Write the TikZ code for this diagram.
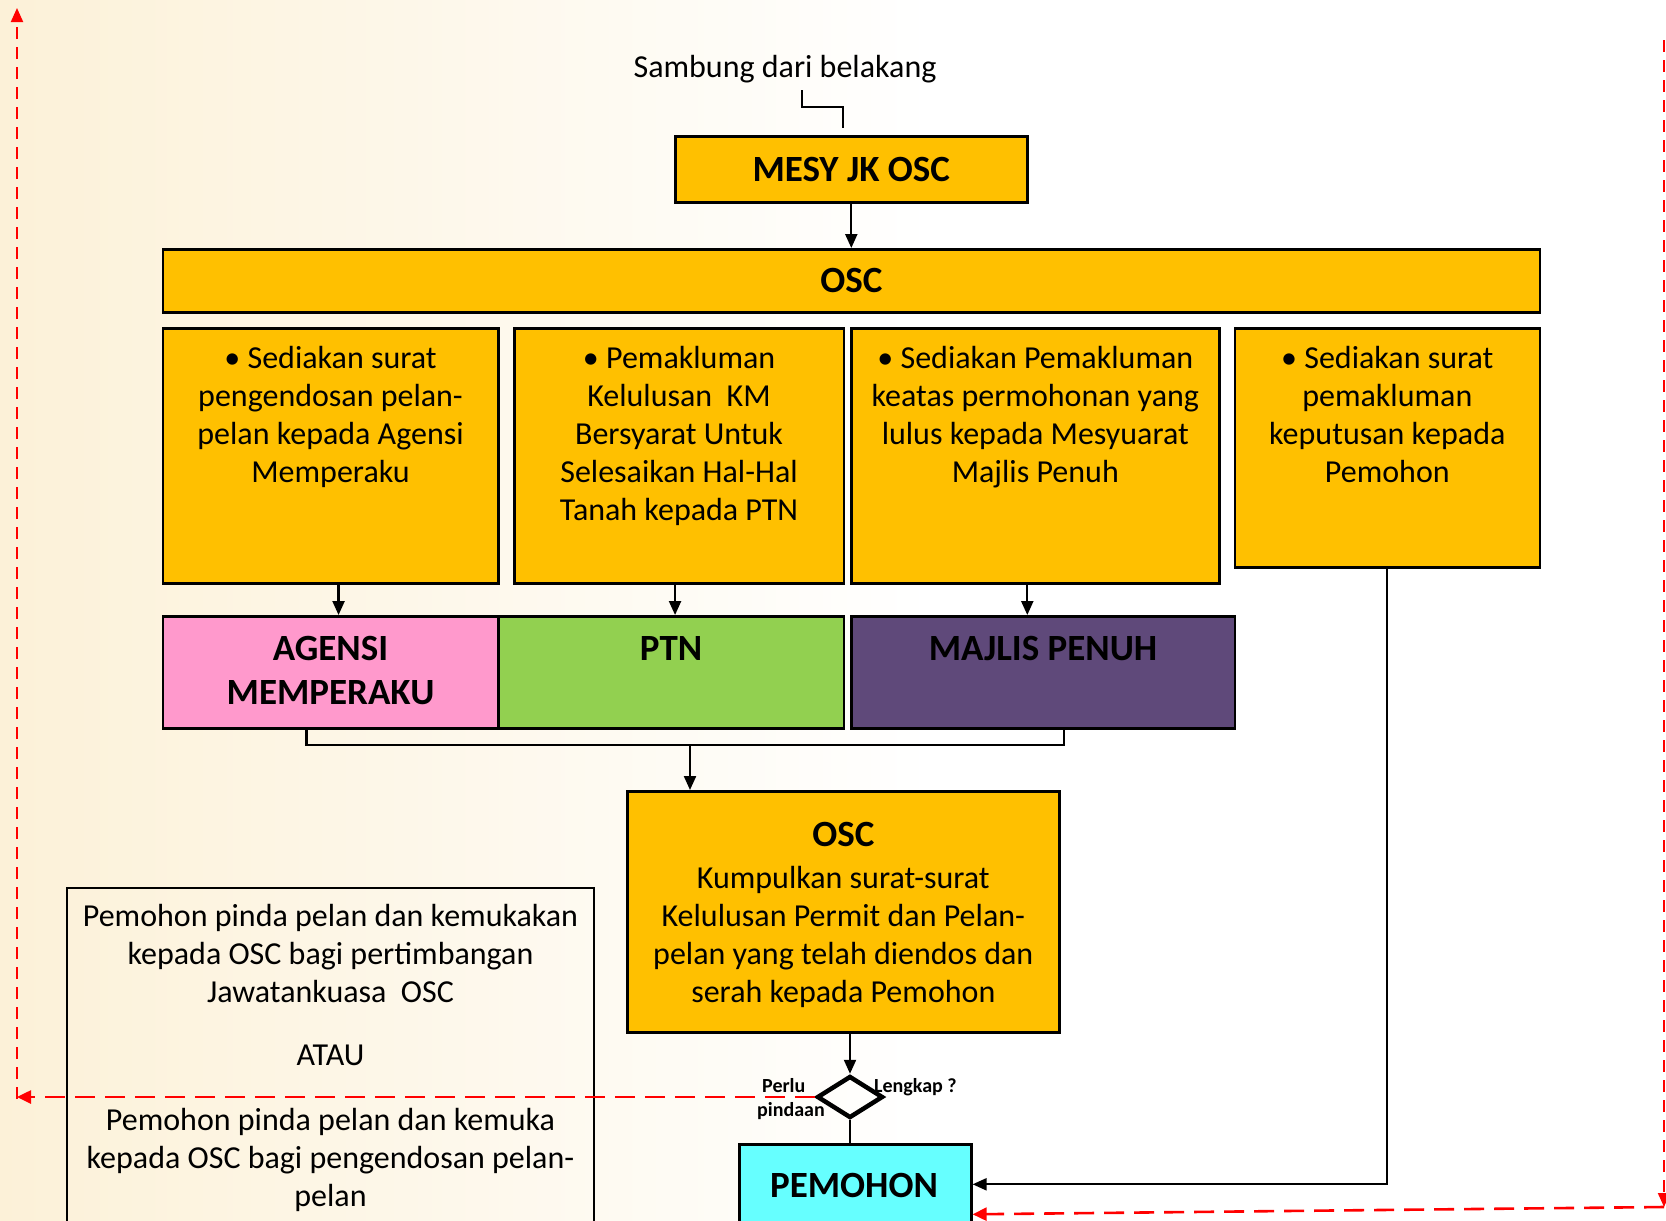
\documentclass[tikz,border=0pt]{standalone}
\usepackage{fontspec}
\setmainfont{Carlito}
\usetikzlibrary{arrows.meta,shapes.geometric}
\definecolor{org}{HTML}{FFC000}
\definecolor{pnk}{HTML}{FF99CC}
\definecolor{grn}{HTML}{92D050}
\definecolor{prp}{HTML}{5F497A}
\definecolor{cyn}{HTML}{66FFFF}
\definecolor{rd}{HTML}{FF0000}
\definecolor{cream}{HTML}{FCF1D8}
\begin{document}
\begin{tikzpicture}[x=1pt,y=-1pt,
  box/.style={draw=black, line width=2.6pt, fill=org, inner sep=0pt, anchor=north west},
  conn/.style={line width=2.2pt, -{Triangle[length=14pt,width=12pt]}},
  plain/.style={line width=2.2pt},
  txt/.style={font=\fontsize{32}{38}\selectfont, align=center, inner sep=0pt},
  ttl/.style={font=\fontsize{37}{44}\selectfont\bfseries, align=center, inner sep=0pt},
  sml/.style={font=\fontsize{20}{24}\selectfont\bfseries, align=left, inner sep=0pt},
  redh/.style={draw=rd, line width=2.6pt, dash pattern=on 20pt off 10pt, -{Triangle[length=14pt,width=13pt]}},
  redv/.style={draw=rd, line width=2pt, dash pattern=on 12pt off 8pt, -{Triangle[length=14pt,width=12pt]}}
]
\useasboundingbox (0,0) rectangle (1666,1221);
\clip (0,0) rectangle (1666,1221);
% faint background tint
\shade[left color=cream, right color=white] (0,0) rectangle (930,1221);

% top
\node[txt] (samb) at (785,69) {Sambung dari belakang};
\node[box, minimum width=352pt, minimum height=66pt] (mesy) at (674,135) {};
\node[ttl] (mesyt) at (mesy.center) {MESY JK OSC};
\draw[line width=2pt] (802,90) |- (843,107) -- (843,128);

\node[box, minimum width=1377pt, minimum height=63pt] (osc) at (161.5,248) {};
\node[ttl] (osct) at (osc.center) {OSC};
\draw[conn] (mesy.south) -- (mesy.south |- osc.north);

% four task boxes
\node[box, minimum width=335.5pt, minimum height=255pt] (b1) at (161.5,327) {};
\node[box, minimum width=329.5pt, minimum height=255pt] (b2) at (513,327) {};
\node[box, minimum width=368pt, minimum height=255pt] (b3) at (850,327) {};
\node[box, minimum width=305pt, minimum height=239pt] (b4) at (1233.5,327) {};
\node[txt, anchor=north] (b1t) at (b1.north |- 0,346) {• Sediakan surat\\pengendosan pelan-\\pelan kepada Agensi\\Memperaku};
\node[txt, anchor=north] (b2t) at (b2.north |- 0,346) {• Pemakluman\\Kelulusan\ \ KM\\Bersyarat Untuk\\Selesaikan Hal-Hal\\Tanah kepada PTN};
\node[txt, anchor=north] (b3t) at (b3.north |- 0,346) {• Sediakan Pemakluman\\keatas permohonan yang\\lulus kepada Mesyuarat\\Majlis Penuh};
\node[txt, anchor=north] (b4t) at (b4.north |- 0,346) {• Sediakan surat\\pemakluman\\keputusan kepada\\Pemohon};

% agencies row
\node[box, fill=pnk, minimum width=335.5pt, minimum height=112pt] (ag) at (161.5,615) {};
\node[box, fill=grn, minimum width=345.5pt, minimum height=112pt] (ptn) at (497,615) {};
\node[box, fill=prp, minimum width=383.5pt, minimum height=112pt] (mj) at (850,615) {};
\node[ttl, anchor=north] (agt) at (ag.north |- 0,636) {AGENSI\\MEMPERAKU};
\node[ttl, anchor=north] (ptnt) at (ptn.north |- 0,636) {PTN};
\node[ttl, anchor=north] (mjt) at (mj.north |- 0,636) {MAJLIS PENUH};

\draw[conn] ([xshift=8pt]b1.south) -- ([xshift=8pt]b1.south |- ag.north);
\draw[conn] ([xshift=-4pt]b2.south) -- ([xshift=-4pt]b2.south |- ptn.north);
\draw[conn] ([xshift=-8pt]b3.south) -- ([xshift=-8pt]b3.south |- mj.north);

% merge
\coordinate (mrg) at (690,745);
\draw[plain] ([xshift=-24pt]ag.south) |- (mrg) -| ([xshift=21pt]mj.south);

% OSC collect box
\node[box, minimum width=432pt, minimum height=241pt] (osc2) at (626,790) {};
\node[ttl, anchor=north] (osc2t) at (osc2.north |- 0,822) {OSC};
\node[txt, anchor=north] (osc2b) at (osc2.north |- 0,866) {Kumpulkan surat-surat\\Kelulusan Permit dan Pelan-\\pelan yang telah diendos dan\\serah kepada Pemohon};
\draw[conn] (mrg) -- (mrg |- osc2.north);

% left alternative box
\node[draw=black, line width=2pt, inner sep=0pt, anchor=north west, minimum width=527pt, minimum height=345pt] (lb) at (66,887) {};
\node[txt, anchor=north] (lb1) at (lb.north |- 0,904) {Pemohon pinda pelan dan kemukakan\\kepada OSC bagi pertimbangan\\Jawatankuasa\ \ OSC};
\node[txt, anchor=north] (lb2) at (lb.north |- 0,1045) {ATAU};
\node[txt, anchor=north] (lb3) at (lb.north |- 0,1108) {Pemohon pinda pelan dan kemuka\\kepada OSC bagi pengendosan pelan-\\pelan};

% decision
\node[draw=black, line width=4.5pt, diamond, inner sep=0pt, minimum width=66pt, minimum height=42pt] (dia) at (850,1097) {};
\draw[conn] (dia.north |- osc2.south) -- (dia.north);
\node[sml, anchor=north west] (perlu) at (757,1078) {\hspace{5pt}Perlu\\pindaan};
\node[sml, anchor=north west] (lengkap) at (874,1078) {Lengkap ?};

% applicant
\node[box, fill=cyn, minimum width=232pt, minimum height=80pt] (pem) at (738,1143) {};
\node[ttl] (pemt) at (854,1185) {PEMOHON};
\draw[plain] (dia.south) -- (dia.south |- pem.north);
\draw[conn] (b4.south) |- (pem.east);

% red dashed returns
\coordinate (lt) at (17,8);
\coordinate (lc) at (dia.west -| lt);
\draw[redh] (dia.west) -- (lc);
\draw[redv] ([yshift=-2pt]lc) -- (lt);
\coordinate (rt) at (1664,40);
\coordinate (rb) at (1664,1207);
\draw[redv] (rt) -- (rb);
\draw[redh] (rb) -- ([yshift=-30pt]pem.east);
\end{tikzpicture}
\end{document}
